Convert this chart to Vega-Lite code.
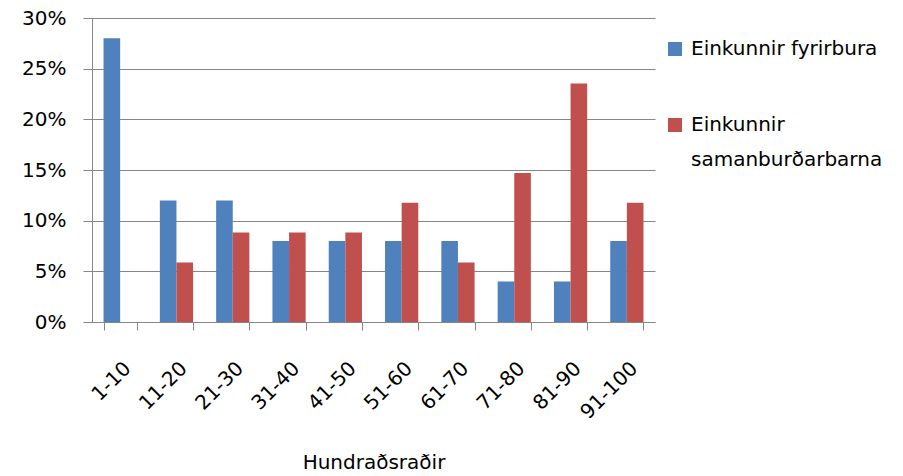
{
  "$schema": "https://vega.github.io/schema/vega-lite/v6.json",
  "width": 563,
  "height": 304,
  "autosize": {"type": "none"},
  "padding": {"left": 92, "top": 18, "right": 248, "bottom": 154},
  "background": "white",
  "config": {
    "view": {"stroke": null},
    "font": "DejaVu Sans",
    "axis": {"labelFont": "DejaVu Sans", "titleFont": "DejaVu Sans", "labelColor": "#000000", "titleColor": "#000000"},
    "legend": {"labelFont": "DejaVu Sans"}
  },
  "data": {
    "values": [
      {"range": "1-10", "series": "Einkunnir fyrirbura", "value": 0.28},
      {"range": "1-10", "series": "Einkunnir samanburðarbarna", "value": 0},
      {"range": "11-20", "series": "Einkunnir fyrirbura", "value": 0.12},
      {"range": "11-20", "series": "Einkunnir samanburðarbarna", "value": 0.0588},
      {"range": "21-30", "series": "Einkunnir fyrirbura", "value": 0.12},
      {"range": "21-30", "series": "Einkunnir samanburðarbarna", "value": 0.0882},
      {"range": "31-40", "series": "Einkunnir fyrirbura", "value": 0.08},
      {"range": "31-40", "series": "Einkunnir samanburðarbarna", "value": 0.0882},
      {"range": "41-50", "series": "Einkunnir fyrirbura", "value": 0.08},
      {"range": "41-50", "series": "Einkunnir samanburðarbarna", "value": 0.0882},
      {"range": "51-60", "series": "Einkunnir fyrirbura", "value": 0.08},
      {"range": "51-60", "series": "Einkunnir samanburðarbarna", "value": 0.1176},
      {"range": "61-70", "series": "Einkunnir fyrirbura", "value": 0.08},
      {"range": "61-70", "series": "Einkunnir samanburðarbarna", "value": 0.0588},
      {"range": "71-80", "series": "Einkunnir fyrirbura", "value": 0.04},
      {"range": "71-80", "series": "Einkunnir samanburðarbarna", "value": 0.1471},
      {"range": "81-90", "series": "Einkunnir fyrirbura", "value": 0.04},
      {"range": "81-90", "series": "Einkunnir samanburðarbarna", "value": 0.2353},
      {"range": "91-100", "series": "Einkunnir fyrirbura", "value": 0.08},
      {"range": "91-100", "series": "Einkunnir samanburðarbarna", "value": 0.1176}
    ]
  },
  "mark": {"type": "bar"},
  "encoding": {
    "x": {
      "field": "range",
      "type": "nominal",
      "sort": ["1-10", "11-20", "21-30", "31-40", "41-50", "51-60", "61-70", "71-80", "81-90", "91-100"],
      "scale": {"paddingInner": 0.41, "paddingOuter": 0.205},
      "axis": {
        "title": "Hundraðsraðir",
        "titleFontSize": 20,
        "titleFontWeight": "normal",
        "titlePadding": 30,
        "labelAngle": -45,
        "labelFontSize": 20,
        "labelPadding": 28,
        "tickBand": "extent",
        "tickSize": 8,
        "tickColor": "#868686",
        "domainColor": "#868686",
        "grid": false
      }
    },
    "xOffset": {"field": "series", "sort": ["Einkunnir fyrirbura", "Einkunnir samanburðarbarna"]},
    "y": {
      "field": "value",
      "type": "quantitative",
      "scale": {"domain": [0, 0.3]},
      "axis": {
        "title": null,
        "format": ".0%",
        "values": [0, 0.05, 0.1, 0.15, 0.2, 0.25, 0.3],
        "labelFontSize": 20,
        "labelPadding": 17,
        "tickSize": 9,
        "tickColor": "#868686",
        "domainColor": "#868686",
        "gridColor": "#868686",
        "gridOpacity": 1
      }
    },
    "color": {
      "field": "series",
      "type": "nominal",
      "sort": ["Einkunnir fyrirbura", "Einkunnir samanburðarbarna"],
      "scale": {"range": ["#4F81BD", "#C0504D"]},
      "legend": {
        "title": null,
        "orient": "none",
        "legendX": 573,
        "legendY": 21,
        "symbolType": "square",
        "symbolSize": 196,
        "symbolStrokeWidth": 0,
        "labelFontSize": 20,
        "labelLimit": 300,
        "labelOffset": 6,
        "rowPadding": 56,
        "labelExpr": "datum.label == 'Einkunnir samanburðarbarna' ? ['Einkunnir', 'samanburðarbarna'] : datum.label",
        "encode": {"labels": {"update": {"lineHeight": {"value": 35}}}}
      }
    }
  }
}
